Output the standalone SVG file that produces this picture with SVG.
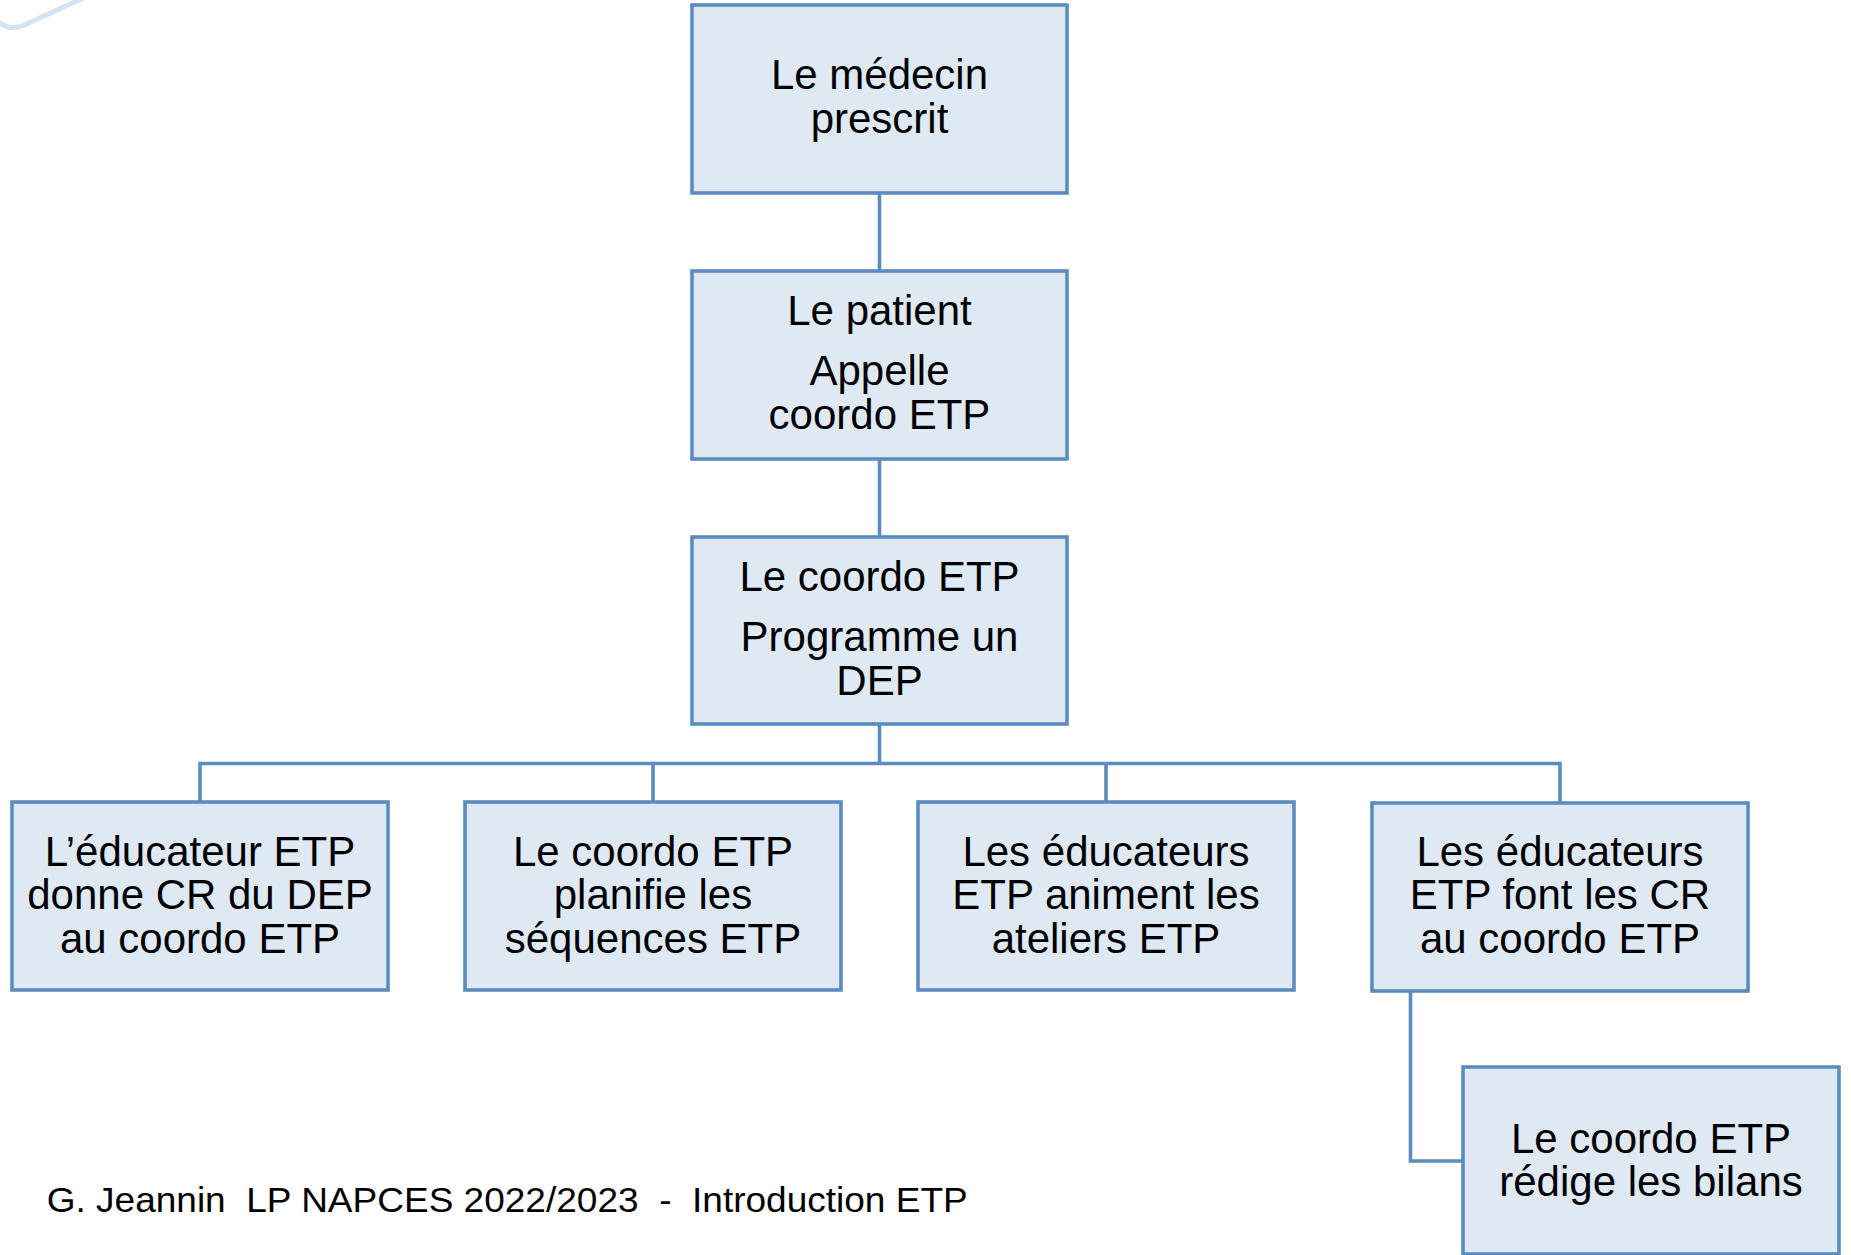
<svg xmlns="http://www.w3.org/2000/svg" width="1851" height="1255" viewBox="0 0 1851 1255">
<style>
.box{fill:#dfe9f4;stroke:#5b8cbf;stroke-width:3.6}
.t{font-family:"Liberation Sans",Arial,sans-serif;font-size:42px;fill:#000;text-anchor:middle}
.c{fill:none;stroke:#5b8cbf;stroke-width:3.6}
</style>
<rect width="1851" height="1255" fill="#fff"/>
<path d="M-4 20 Q8 31 22 26 L90 -5" fill="none" stroke="#d3e3f6" stroke-width="5" stroke-linecap="round"/>
<g id="connectors">
<path class="c" d="M879.5 193 V271"/>
<path class="c" d="M879.5 459 V537"/>
<path class="c" d="M879.5 724 V763.5"/>
<path class="c" d="M200 802 V763.5 H1560 V802"/>
<path class="c" d="M653 763.5 V802"/>
<path class="c" d="M1106 763.5 V802"/>
<path class="c" d="M1410.5 990 V1161 H1463"/>
</g>
<g id="n1"><rect class="box" x="692" y="5" width="375" height="188"/>
<text class="t" x="879.5" y="89">Le médecin</text><text class="t" x="879.5" y="133">prescrit</text></g>
<g id="n2"><rect class="box" x="692" y="271" width="375" height="188"/>
<text class="t" x="879.5" y="325">Le patient</text><text class="t" x="879.5" y="385">Appelle</text><text class="t" x="879.5" y="429">coordo ETP</text></g>
<g id="n3"><rect class="box" x="692" y="537" width="375" height="187"/>
<text class="t" x="879.5" y="591">Le coordo ETP</text><text class="t" x="879.5" y="651">Programme un</text><text class="t" x="879.5" y="695">DEP</text></g>
<g id="n4"><rect class="box" x="12" y="802" width="376" height="188"/>
<text class="t" x="200" y="866">L’éducateur ETP</text><text class="t" x="200" y="909">donne CR du DEP</text><text class="t" x="200" y="953">au coordo ETP</text></g>
<g id="n5"><rect class="box" x="465" y="802" width="376" height="188"/>
<text class="t" x="653" y="866">Le coordo ETP</text><text class="t" x="653" y="909">planifie les</text><text class="t" x="653" y="953">séquences ETP</text></g>
<g id="n6"><rect class="box" x="918" y="802" width="376" height="188"/>
<text class="t" x="1106" y="866">Les éducateurs</text><text class="t" x="1106" y="909">ETP animent les</text><text class="t" x="1106" y="953">ateliers ETP</text></g>
<g id="n7"><rect class="box" x="1372" y="803" width="376" height="188"/>
<text class="t" x="1560" y="866">Les éducateurs</text><text class="t" x="1560" y="909">ETP font les CR</text><text class="t" x="1560" y="953">au coordo ETP</text></g>
<g id="n8"><rect class="box" x="1463" y="1067" width="376" height="187"/>
<text class="t" x="1651" y="1153">Le coordo ETP</text><text class="t" x="1651" y="1196">rédige les bilans</text></g>
<text x="46.7" y="1212" font-family="Liberation Sans,Arial,sans-serif" font-size="35" textLength="921" lengthAdjust="spacingAndGlyphs" xml:space="preserve">G. Jeannin  LP NAPCES 2022/2023  -  Introduction ETP</text>
</svg>
